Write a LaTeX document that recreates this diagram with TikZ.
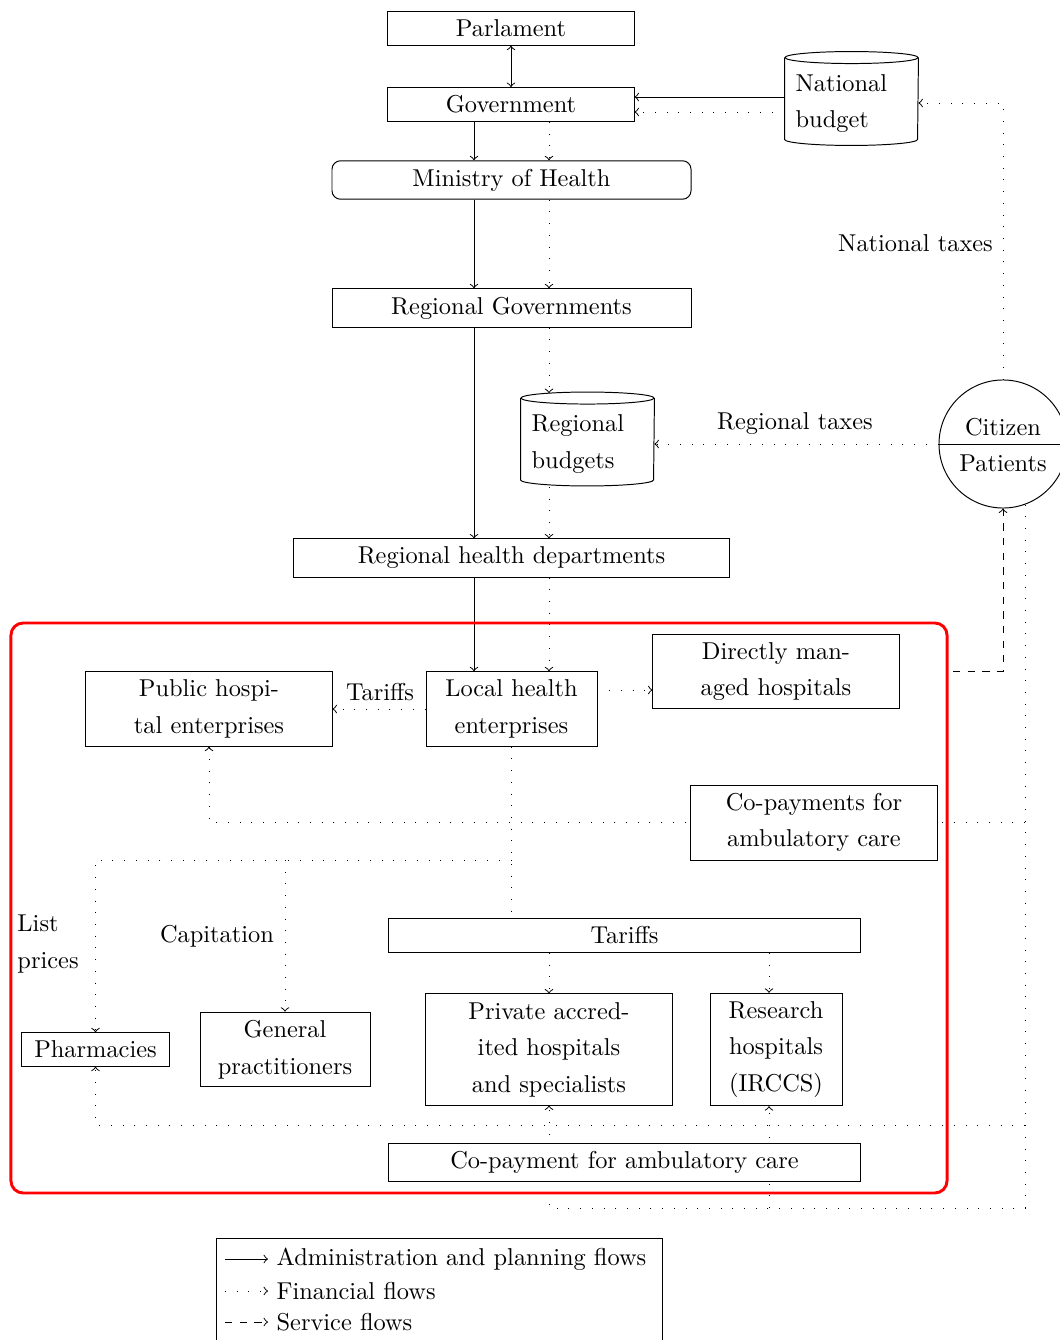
\documentclass[tikz,border=0pt]{standalone}
\usetikzlibrary{calc}
\pgfdeclarelayer{background}
\pgfsetlayers{background,main}

% outline of a budget "drum" around a named rectangular node
\newcommand\drumline[1]{%
  \draw ($(#1.north west)+(0,-1)$) -- ($(#1.south west)+(0,11)$)
        arc[start angle=180, end angle=360, x radius=66.5, y radius=6]
        -- ($(#1.north east)+(0,-1)$);
  \draw ($(#1.north)+(0,-1)$) ellipse[x radius=66.5, y radius=6];}

\begin{document}
\begin{tikzpicture}[x=0.41pt, y=0.41pt,
  every node/.style={font=\fontsize{10}{15}\selectfont},
  box/.style={draw, fill=white, align=center},
  drum/.style={align=left, text width=45.8pt, minimum width=54.5pt, minimum height=38.1pt},
  adm/.style={->},
  fin/.style={->, dash pattern=on 0.4pt off 4.4pt},
  finline/.style={dash pattern=on 0.4pt off 4.4pt},
  srv/.style={->, dashed},
]
\useasboundingbox (0,0) rectangle (1059,-1340);

% ---- national and regional level
\node[box, minimum width=100.9pt] (parl) at (511,-28.5) {Parlament};
\node[box, minimum width=100.9pt] (gov) at (511,-104.5) {Government};
\node[box, rounded corners=3.5pt, minimum width=147.2pt] (moh) at (511.5,-180) {Ministry of Health};
\node[box, minimum width=147.2pt] (rgov) at (511.5,-308) {Regional Governments};
\node[drum] (nb) at (851.5,-103.5) {National\\budget};
\drumline{nb}
\node[drum] (rb) at (587.5,-444) {Regional\\budgets};
\drumline{rb}
\node[draw, circle, minimum size=52.5pt, inner sep=0pt] (cit) at (1003,-444) {};
\draw (cit.west) -- (cit.east);
\node (citt) at (1003,-427) {Citizen};
\node (patt) at (1003,-463) {Patients};
\node[box, minimum width=178.4pt] (rhd) at (511.5,-558) {Regional health departments};

% ---- local level
\node[draw=red, line width=1.2pt, rounded corners=5pt, minimum width=383.8pt,
      minimum height=233.7pt, inner sep=0pt] (zone) at (479,-908) {};
\node[box, minimum width=100.9pt] (phe) at (209,-709) {Public hospi-\\tal enterprises};
\node[box, minimum width=70.1pt] (lhe) at (511.5,-709) {Local health\\enterprises};
\node[box, minimum width=100.9pt] (dmh) at (776,-671.5) {Directly man-\\aged hospitals};
\node[box, minimum width=100.9pt] (cop) at (814,-822.5) {Co-payments for\\ambulatory care};
\node[box, minimum width=193.9pt] (tar) at (624.5,-935.5) {Tariffs};
\node[box, minimum width=100.9pt] (priv) at (549,-1049.5) {Private accred-\\ited hospitals\\and specialists};
\node[box, minimum width=54.1pt] (res) at (776,-1049.5) {Research\\hospitals\\(IRCCS)};
\node[box, minimum width=60.3pt] (pha) at (95.5,-1049.5) {Pharmacies};
\node[box, minimum width=69.7pt] (gp) at (285,-1049.5) {General\\practitioners};
\node[box, minimum width=193.9pt] (cab) at (624.5,-1162.5) {Co-payment for ambulatory care};

% ---- labels
\node (lblNT) at (915.5,-243) {National taxes};
\node (lblRT) at (795,-424) {Regional taxes};
\node (lblT) at (380,-692) {Tariffs};
\node[anchor=west, align=left, inner sep=0pt] (lblLP) at (17,-944) {List\\prices};
\node (lblC) at (217,-936) {Capitation};

% ---- helper columns and rows for the connectors
\coordinate (ca) at (474,0);
\coordinate (cb) at (549,0);
\coordinate (cr) at (769,0);
\coordinate (rowS) at (0,-97);
\coordinate (rowD) at (0,-112);
\coordinate (rowNT) at (0,-103);
\coordinate (rowDM) at (0,-690);
\coordinate (rowCo) at (0,-822);
\coordinate (rowLH) at (0,-860);
\coordinate (rowPh) at (0,-1125);
\coordinate (rowPr) at (0,-1208);
\coordinate (pout) at (cit.-70);
\coordinate (dstart) at (953,-671);

\begin{pgfonlayer}{background}
\draw[<->] (parl) -- (gov);
\draw[adm] (gov.south -| ca) -- (moh.north -| ca);
\draw[fin] (gov.south -| cb) -- (moh.north -| cb);
\draw[adm] (nb.west |- rowS) -- (gov.east |- rowS);
\draw[fin] (nb.west |- rowD) -- (gov.east |- rowD);
\draw[fin] (cit.north) |- (nb.east |- rowNT);
\draw[adm] (moh.south -| ca) -- (rgov.north -| ca);
\draw[fin] (moh.south -| cb) -- (rgov.north -| cb);
\draw[adm] (rgov.south -| ca) -- (rhd.north -| ca);
\draw[fin] (rgov.south -| cb) -- ($(rb.north -| cb)+(0,4)$);
\draw[fin] ($(rb.south -| cb)+(0,4)$) -- (rhd.north -| cb);
\draw[fin] (cit.west) -- (cit.west -| rb.east);
\draw[adm] (rhd.south -| ca) -- (lhe.north -| ca);
\draw[fin] (rhd.south -| cb) -- (lhe.north -| cb);
\draw[fin] (lhe.west) -- (phe.east);
\draw[fin] (lhe.east |- rowDM) -- (dmh.west |- rowDM);
\draw[srv] (dstart) -| (cit.south);
\draw[fin] (pout |- rowCo) -| (phe.south);
\draw[finline] (lhe.south) -- (lhe.south |- tar.north);
\draw[fin] (lhe.south |- rowLH) -| (pha.north);
\draw[fin] (gp.north |- rowLH) -- (gp.north);
\draw[fin] (tar.south -| cb) -- (priv.north -| cb);
\draw[fin] (tar.south -| cr) -- (res.north -| cr);
\draw[fin] (pout) |- (priv.south |- rowPr) -- (priv.south);
\draw[fin] (cr |- rowPr) -- (res.south -| cr);
\draw[fin] (pout |- rowPh) -| (pha.south);
\end{pgfonlayer}

% ---- legend
\node[draw, minimum width=182.5pt, minimum height=46pt, inner sep=0pt] (leg) at (439.5,-1295) {};
\node[anchor=west] (l1) at (268,-1259) {Administration and planning flows};
\node[anchor=west] (l2) at (268,-1291) {Financial flows};
\node[anchor=west] (l3) at (268,-1322) {Service flows};
\coordinate (k1) at (225,-1259);
\coordinate (k2) at (225,-1291);
\coordinate (k3) at (225,-1322);
\draw[adm] (k1) -- (l1.west);
\draw[fin] (k2) -- (l2.west);
\draw[srv] (k3) -- (l3.west);
\end{tikzpicture}
\end{document}
